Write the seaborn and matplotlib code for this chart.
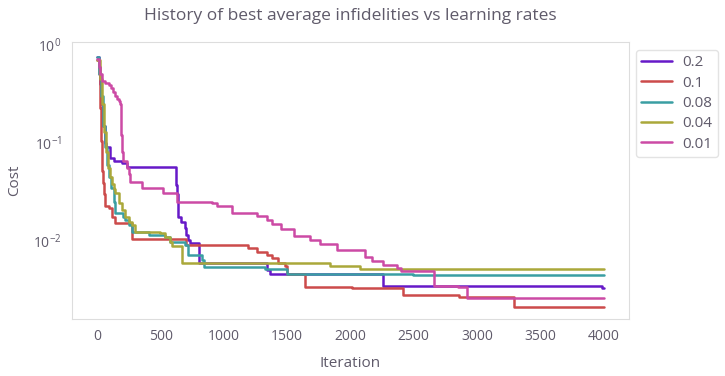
#!/usr/bin/env python

import matplotlib
matplotlib.use("Agg")
import matplotlib.pyplot as plt
import pandas as pd
import seaborn as sns

# best-so-far cost (change points of the staircase)
it_02 = [0, 10, 20, 30, 45, 60, 68, 102, 129, 195, 234, 620, 628, 636, 660, 690, 700, 720, 734, 800,
         1341, 1365, 2257, 3990, 4000]
cost_02 = [0.76, 0.6, 0.4, 0.25, 0.15, 0.1, 0.09, 0.071, 0.066, 0.063, 0.0565, 0.037, 0.030, 0.0176,
           0.0157, 0.0135, 0.0115, 0.0102, 0.0095, 0.0059, 0.0051, 0.0046, 0.0035, 0.0033, 0.0033]

it_01 = [0, 10, 24, 32, 37, 45, 50, 63, 89, 116, 137, 274, 700, 1193, 1260, 1339, 1378, 1430, 1483,
         1497, 1640, 2012, 2418, 2856, 3290, 4000]
cost_01 = [0.7, 0.5, 0.23, 0.106, 0.052, 0.039, 0.030, 0.023, 0.0216, 0.0176, 0.0153, 0.0104, 0.0091,
           0.0085, 0.0078, 0.0072, 0.0067, 0.0059, 0.0055, 0.0046, 0.0034, 0.0033, 0.0028, 0.0027,
           0.00214, 0.00214]

it_008 = [0, 15, 30, 45, 60, 75, 90, 110, 130, 142, 205, 221, 250, 274, 405, 537, 576, 694, 718, 826,
          839, 1326, 1497, 2493, 4000]
cost_008 = [0.75, 0.5, 0.3, 0.15, 0.09, 0.06, 0.045, 0.035, 0.025, 0.0195, 0.0175, 0.0163, 0.0145,
            0.0124, 0.0115, 0.011, 0.0098, 0.0091, 0.0072, 0.0064, 0.0054, 0.0052, 0.00465, 0.0045,
            0.0045]

it_004 = [0, 20, 40, 55, 70, 85, 100, 115, 130, 142, 168, 195, 221, 247, 274, 300, 497, 537, 576, 589,
          668, 1838, 2075, 4000]
cost_004 = [0.7, 0.45, 0.25, 0.13, 0.08, 0.055, 0.045, 0.038, 0.034, 0.031, 0.0245, 0.0205, 0.0176,
            0.0157, 0.0145, 0.0124, 0.012, 0.011, 0.0098, 0.0088, 0.0059, 0.0056, 0.0052, 0.0052]

it_001 = [0, 10, 25, 37, 60, 90, 110, 125, 140, 155, 170, 180, 185, 190, 195, 205, 237, 250, 260, 355,
          520, 630, 905, 944, 1063, 1262, 1341, 1380, 1450, 1550, 1680, 1760, 1895, 2115, 2170, 2260,
          2367, 2400, 2660, 2850, 2920, 4000]
cost_001 = [0.72, 0.6, 0.5, 0.43, 0.41, 0.39, 0.36, 0.33, 0.30, 0.28, 0.27, 0.25, 0.18, 0.12, 0.08,
            0.066, 0.056, 0.048, 0.040, 0.0345, 0.031, 0.025, 0.0242, 0.023, 0.0191, 0.018, 0.0162,
            0.0148, 0.0134, 0.0112, 0.0102, 0.0094, 0.008, 0.0069, 0.0062, 0.0057, 0.0053, 0.0049,
            0.0035, 0.0034, 0.00264, 0.00264]

rates = ["0.2", "0.1", "0.08", "0.04", "0.01"]
palette = ["#6619c8", "#cc4b4b", "#3a9ea3", "#aaa83a", "#cc4aa5"]


def build_frame():
    its = [it_02, it_01, it_008, it_004, it_001]
    costs = [cost_02, cost_01, cost_008, cost_004, cost_001]
    parts = []
    for rate, it, c in zip(rates, its, costs):
        parts.append(pd.DataFrame({"Iteration": it, "Cost": c, "rate": rate}))
    return pd.concat(parts, ignore_index=True)


def plot_history(df):
    sns.set_style("white")
    plt.rcParams["font.family"] = ["Open Sans", "DejaVu Sans"]
    text_col = "#5f5a6a"

    fig, ax = plt.subplots(figsize=(7.25, 3.76), dpi=100)
    fig.subplots_adjust(left=0.0993, right=0.8676, top=0.888, bottom=0.1516)

    sns.lineplot(data=df, x="Iteration", y="Cost", hue="rate", hue_order=rates,
                 palette=palette, estimator=None, drawstyle="steps-post",
                 linewidth=1.8, ax=ax)
    ax.set_yscale("log")
    ax.set_ylim(1.6e-3, 1.07)
    ax.set_xlim(-200, 4200)
    ax.set_xticks(range(0, 4001, 500))

    for s in ax.spines.values():
        s.set_color("#dddddd")
    ax.tick_params(which="both", colors="#888888", labelcolor=text_col, labelsize=10)
    ax.tick_params(which="major", length=4)
    ax.tick_params(which="minor", length=2)

    ax.set_xlabel("Iteration", color=text_col, fontsize=11, labelpad=8)
    ax.set_ylabel("Cost", color=text_col, fontsize=11, labelpad=8)
    ax.set_title("History of best average infidelities vs learning rates",
                 color=text_col, fontsize=12.5, pad=16)

    leg = ax.legend(loc="upper left", bbox_to_anchor=(1.012, 0.972), fontsize=11,
                    frameon=True, handlelength=2.0, handletextpad=0.7,
                    labelspacing=0.35, borderpad=0.35, borderaxespad=0)
    leg.get_frame().set_edgecolor("#dddddd")
    for t in leg.get_texts():
        t.set_color(text_col)
    return fig.savefig("out.png")


def main():
    df = build_frame()
    plot_history(df)


if __name__ == "__main__":
    main()
